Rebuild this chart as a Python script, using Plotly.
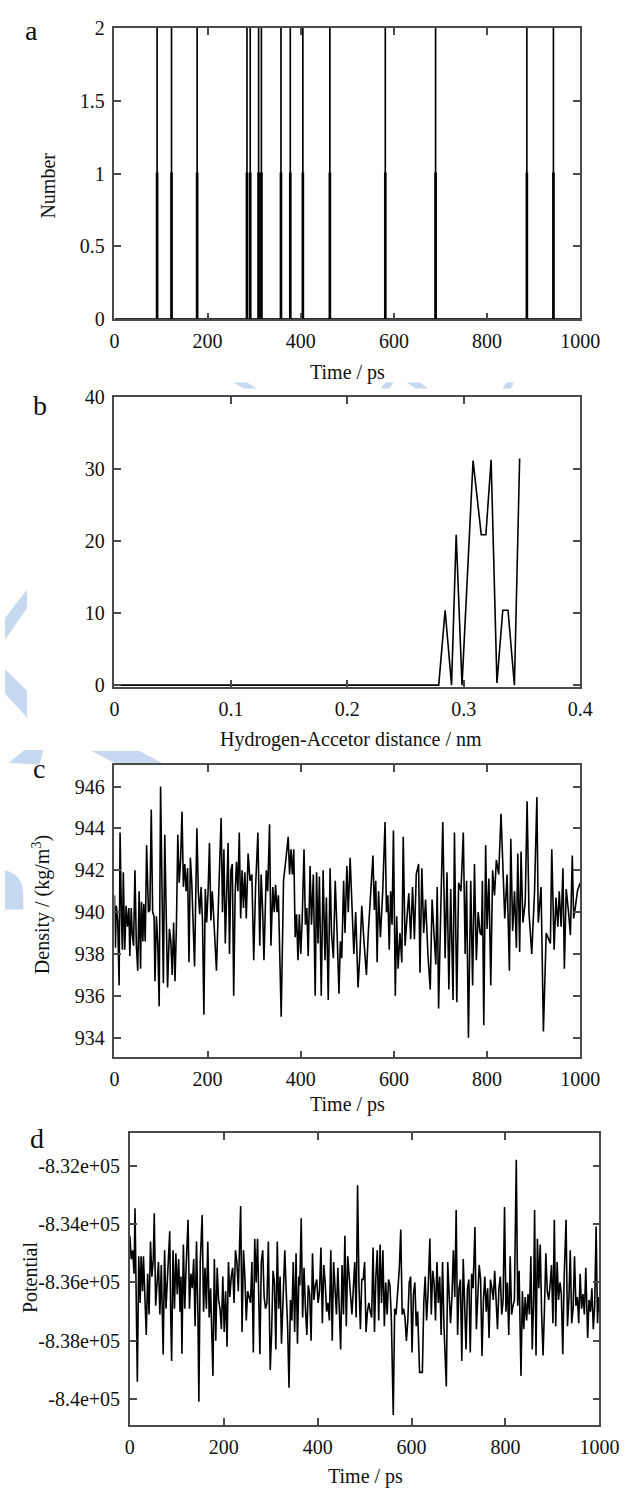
import plotly.graph_objects as go

W, H = 629, 1497

# ---------------- data ----------------
# panel a: hydrogen-bond events (time in ps)
a_spike_times = [91, 122, 177, 284, 291, 309, 315, 357, 377, 404, 462, 581, 689, 885, 942]
a_hbond_value = 1   # h-bonds
a_pairs_value = 2   # pairs within 0.35 nm
a_time_end = 1000

# panel b: hydrogen-acceptor distance distribution
b_dist = [0.0, 0.2785, 0.284, 0.2895, 0.2935, 0.2985, 0.308, 0.315, 0.319, 0.3235, 0.3285, 0.3335, 0.338, 0.3435, 0.348]
b_count = [0, 0, 10.4, 0, 20.9, 0, 31.2, 20.9, 20.9, 31.3, 0.3, 10.4, 10.4, 0, 31.5]

# panel c: density
c_time = [0, 2, 4, 7, 10, 12, 15, 17, 19, 22, 25, 28, 31, 33, 36, 38, 41, 44, 47, 50, 53, 56, 58, 61, 63, 66, 69, 73, 76, 79,
          82, 85, 87, 90, 93, 96, 99, 102, 105, 108, 111, 114, 118, 121, 124, 127, 130, 133, 136, 139, 142, 145, 148, 151, 154,
          157, 160, 163, 166, 169, 172, 177, 180, 183, 186, 189, 192, 195, 198, 201, 204, 207, 210, 213, 219, 224, 229, 232, 235,
          238, 241, 244, 247, 250, 253, 256, 259, 262, 265, 268, 271, 274, 277, 280, 283, 287, 291, 295, 299, 303, 308, 312, 315,
          318, 321, 326, 329, 333, 336, 340, 343, 346, 349, 352, 358, 363, 368, 373, 376, 379, 382, 385, 388, 391, 394, 397, 400,
          403, 407, 410, 413, 416, 420, 423, 427, 431, 434, 437, 440, 444, 448, 452, 455, 459, 463, 466, 470, 474, 478, 482, 485,
          488, 492, 495, 499, 502, 506, 510, 514, 518, 523, 527, 531, 536, 541, 545, 550, 555, 558, 561, 564, 567, 571, 576, 581,
          584, 587, 590, 593, 596, 599, 603, 606, 609, 613, 617, 620, 624, 628, 632, 636, 640, 644, 648, 653, 656, 660, 664, 668,
          673, 678, 682, 686, 690, 693, 696, 700, 705, 710, 714, 718, 722, 727, 730, 735, 739, 744, 749, 753, 756, 760, 765, 769,
          773, 777, 781, 785, 788, 790, 793, 797, 800, 804, 808, 812, 816, 820, 825, 830, 834, 838, 843, 848, 851, 855, 859, 863,
          866, 870, 873, 877, 882, 886, 890, 896, 902, 907, 910, 916, 921, 927, 936, 939, 944, 948, 952, 955, 959, 963, 966, 970,
          975, 979, 983, 986, 990, 994, 1000]
c_density = [940.8, 938.3, 940.3, 939.6, 936.5, 943.8, 939.8, 938.2, 941.9, 938.2, 940.3, 939.3, 940.2, 937.9, 940.2, 939.0,
             938.4, 942.0, 938.4, 937.2, 941.0, 937.3, 940.5, 938.6, 940.4, 938.6, 943.2, 940.0, 940.1, 944.9, 940.0, 939.8,
             936.7, 939.8, 938.5, 935.5, 946.0, 940.2, 936.6, 943.7, 939.0, 936.4, 939.2, 938.6, 937.0, 939.5, 936.7, 939.3,
             943.7, 941.4, 942.5, 944.8, 941.2, 942.3, 941.0, 942.1, 937.6, 942.6, 941.4, 939.5, 937.4, 944.0, 941.0, 939.9,
             941.2, 939.6, 935.1, 941.1, 939.5, 941.0, 943.3, 939.6, 941.0, 939.8, 937.2, 941.0, 944.5, 940.0, 943.0, 938.5,
             940.5, 943.3, 938.0, 942.0, 942.3, 936.0, 940.8, 942.4, 941.0, 943.8, 939.7, 942.0, 940.2, 941.9, 939.7, 942.8,
             941.5, 941.8, 937.7, 941.2, 943.8, 938.4, 941.8, 940.2, 937.7, 942.0, 941.0, 944.2, 938.4, 941.2, 940.0, 941.3,
             940.0, 940.8, 935.0, 941.5, 942.5, 943.6, 941.8, 943.0, 941.8, 943.0, 938.8, 939.9, 937.7, 939.9, 938.0, 939.6,
             943.0, 939.4, 940.2, 937.9, 942.2, 939.4, 941.8, 936.0, 941.9, 938.5, 941.7, 936.0, 942.0, 937.7, 940.7, 935.8,
             942.1, 939.0, 937.8, 941.5, 939.0, 936.1, 938.6, 937.8, 941.5, 939.0, 942.2, 940.0, 942.6, 940.3, 938.0, 940.0,
             936.4, 938.0, 940.3, 938.5, 937.0, 939.0, 941.0, 942.7, 940.1, 941.5, 937.6, 941.0, 938.8, 941.0, 944.3, 940.0,
             940.8, 938.2, 941.0, 939.4, 943.9, 936.0, 939.8, 937.3, 939.0, 937.6, 943.6, 938.4, 939.7, 940.9, 938.7, 941.2,
             938.7, 941.8, 942.3, 937.1, 942.1, 939.0, 940.6, 938.0, 936.3, 940.6, 939.0, 937.5, 941.2, 935.4, 939.5, 944.3,
             937.8, 941.9, 936.3, 941.1, 935.8, 943.8, 935.7, 941.4, 941.0, 943.8, 938.0, 941.5, 934.0, 941.5, 936.5, 942.3,
             937.7, 940.0, 939.0, 938.9, 941.5, 934.6, 943.2, 939.2, 941.6, 936.5, 942.0, 940.8, 942.5, 941.8, 944.7, 941.8,
             939.7, 941.8, 937.2, 943.5, 939.1, 941.0, 938.3, 942.8, 938.1, 942.9, 939.5, 940.5, 945.3, 940.0, 938.0, 941.0,
             945.5, 939.5, 941.2, 934.3, 939.0, 938.5, 943.0, 938.2, 940.7, 939.3, 941.0, 939.3, 942.1, 937.3, 941.1, 940.0,
             938.9, 942.7, 939.7, 940.3, 941.0, 941.4]

# panel d: potential energy
d_time = [0, 3, 6, 9, 11, 13, 16, 19, 22, 24, 27, 29, 32, 35, 38, 41, 44, 47, 50, 52, 55, 58, 61, 64, 67, 71, 74, 77, 80, 85,
          87, 89, 92, 95, 98, 101, 104, 107, 109, 111, 114, 117, 120, 124, 127, 130, 133, 136, 139, 142, 145, 147, 150, 154, 157,
          160, 163, 166, 169, 172, 177, 180, 183, 186, 189, 192, 195, 198, 201, 204, 207, 210, 213, 216, 219, 222, 225, 228, 231,
          236, 239, 242, 245, 248, 251, 254, 257, 260, 263, 266, 269, 272, 274, 277, 280, 283, 286, 289, 292, 295, 299, 302, 305,
          308, 311, 314, 317, 320, 323, 326, 330, 333, 336, 339, 342, 345, 348, 351, 354, 357, 360, 362, 365, 368, 371, 374, 377,
          380, 383, 386, 389, 392, 395, 398, 401, 404, 407, 410, 413, 416, 419, 422, 425, 428, 431, 434, 437, 440, 443, 446, 449,
          452, 455, 458, 461, 464, 467, 470, 473, 476, 479, 482, 485, 488, 491, 494, 497, 500, 503, 506, 509, 512, 515, 518, 521,
          524, 527, 530, 533, 536, 539, 542, 545, 548, 551, 554, 557, 561, 564, 567, 570, 574, 577, 580, 583, 586, 589, 592, 595,
          598, 601, 604, 607, 610, 613, 617, 623, 626, 629, 632, 635, 639, 642, 645, 648, 651, 654, 657, 660, 663, 666, 669, 674,
          677, 680, 683, 686, 689, 692, 695, 698, 701, 704, 707, 710, 713, 716, 719, 722, 725, 728, 731, 735, 738, 741, 744, 747,
          750, 753, 756, 759, 762, 765, 768, 771, 774, 777, 780, 783, 786, 789, 792, 795, 798, 801, 804, 807, 810, 813, 816, 819,
          823, 826, 829, 833, 836, 839, 842, 845, 848, 851, 854, 857, 860, 862, 865, 868, 871, 874, 877, 880, 883, 886, 889, 892,
          895, 898, 901, 904, 907, 910, 913, 916, 919, 922, 925, 929, 932, 935, 938, 941, 944, 947, 950, 953, 956, 959, 962, 965,
          968, 971, 975, 978, 981, 984, 987, 990, 993, 996, 998, 1000]
d_potential = [-834400, -835200, -834900, -835700, -833460, -836600, -839400, -835100, -836700, -835100, -836300, -835100,
               -836900, -837800, -835700, -837100, -834600, -835800, -835200, -833630, -836800, -835800, -835300, -837100,
               -835400, -838470, -834900, -836900, -835800, -834250, -837100, -838690, -834900, -836900, -835000, -836400,
               -835200, -837000, -835800, -838440, -834700, -836900, -835400, -833850, -836900, -835700, -836200, -835200,
               -837500, -834600, -837100, -840090, -835300, -833690, -837000, -835500, -836900, -834600, -837200, -836200,
               -839200, -835200, -838000, -835500, -836600, -836900, -837600, -835800, -837700, -836300, -838200, -835300,
               -836500, -835800, -835500, -836700, -834900, -835300, -836300, -833380, -837700, -834900, -835800, -837300,
               -836300, -836500, -836700, -835300, -838400, -834500, -836000, -834500, -836600, -838460, -835300, -834900,
               -836500, -836900, -836700, -834600, -839000, -837700, -835600, -836000, -838300, -834600, -836900, -835800,
               -838100, -836400, -834900, -836300, -837500, -839610, -836600, -837300, -835300, -837700, -835000, -838100,
               -835800, -836100, -833800, -837200, -835500, -836900, -837800, -836100, -836400, -838000, -835000, -836600,
               -836100, -835900, -836700, -836300, -834800, -837400, -835400, -836000, -837000, -836700, -837300, -834900,
               -838000, -835300, -836400, -837100, -835500, -836700, -838300, -835400, -837100, -834400, -837500, -835100,
               -835800, -836700, -837100, -836200, -835300, -837200, -832670, -836100, -837600, -835900, -835900, -835300,
               -837700, -837000, -836700, -837000, -837200, -834800, -837700, -835800, -834900, -837300, -834700, -836700,
               -834900, -837500, -836000, -837100, -835900, -836100, -837300, -840540, -836900, -837100, -836400, -835500,
               -834190, -837100, -836900, -837200, -838000, -837300, -836000, -835800, -838400, -836400, -836000, -837500,
               -837000, -839080, -839080, -836700, -835800, -837300, -836400, -834500, -837100, -835600, -836000, -837300,
               -835300, -836700, -835800, -837800, -835300, -837500, -839560, -835300, -836400, -837400, -836500, -834900,
               -836500, -833520, -837800, -836200, -835900, -838690, -835200, -837300, -838300, -836200, -835900, -838400,
               -835700, -836200, -834100, -837600, -836400, -835400, -835900, -838520, -836600, -835800, -837000, -836200,
               -837900, -835900, -836200, -836600, -835600, -836500, -837600, -836200, -835800, -837100, -836600, -833420,
               -837000, -836000, -837800, -835100, -837100, -836800, -836600, -831800, -836800, -835600, -839200, -836300,
               -837600, -836500, -837300, -836400, -837100, -835100, -838300, -836500, -833520, -838500, -834500, -836200,
               -834700, -837100, -838500, -836900, -835000, -836300, -836600, -836100, -835400, -837400, -833850, -837500,
               -835300, -836600, -836000, -836400, -838460, -835800, -833850, -837500, -836600, -834900, -837400, -836900,
               -835100, -836800, -836500, -837400, -835700, -836900, -836400, -837100, -835500, -837900, -836600, -837000,
               -836200, -837600, -836800, -834080, -837400, -836500, -837000]
d_tickvals = [-832000, -834000, -836000, -838000, -840000]
d_ticktext = ["-8.32e+05", "-8.34e+05", "-8.36e+05", "-8.38e+05", "-8.4e+05"]

# ---------------- build spike series for panel a ----------------
def spikes(times, value, end):
    xs, ys = [0], [0]
    for t in times:
        xs += [t, t, t + 1, t + 1]
        ys += [0, value, value, 0]
    xs.append(end)
    ys.append(0)
    return xs, ys

ax_pairs, ay_pairs = spikes(a_spike_times, a_pairs_value, a_time_end)
ax_hb, ay_hb = spikes(a_spike_times, a_hbond_value, a_time_end)

# ---------------- figure ----------------
def xd(l, r):
    return [l / W, r / W]

def yd(t, b):
    return [1 - b / H, 1 - t / H]

FONT = "'Liberation Serif', 'Times New Roman', Times, 'DejaVu Serif', serif"
FRAME = "#4a4a4a"
common = dict(showline=True, linecolor=FRAME, linewidth=1.5, mirror="ticks", ticks="inside",
              ticklen=7, tickwidth=1.5, tickcolor=FRAME, showgrid=False, zeroline=False,
              tickfont=dict(family=FONT, size=20, color="#111"))

fig = go.Figure()
line = dict(color="black", width=1.6)
fig.add_trace(go.Scatter(x=ax_pairs, y=ay_pairs, mode="lines", line=dict(color="black", width=1.2),
                         xaxis="x", yaxis="y", showlegend=False, hoverinfo="skip"))
fig.add_trace(go.Scatter(x=ax_hb, y=ay_hb, mode="lines", line=dict(color="black", width=2.2),
                         xaxis="x", yaxis="y", showlegend=False, hoverinfo="skip"))
fig.add_trace(go.Scatter(x=b_dist, y=b_count, mode="lines", line=line,
                         xaxis="x2", yaxis="y2", showlegend=False))
fig.add_trace(go.Scatter(x=c_time, y=c_density, mode="lines", line=line,
                         xaxis="x3", yaxis="y3", showlegend=False))
fig.add_trace(go.Scatter(x=d_time, y=d_potential, mode="lines", line=line,
                         xaxis="x4", yaxis="y4", showlegend=False))

fig.update_layout(
    width=W, height=H, margin=dict(l=0, r=0, t=0, b=0),
    paper_bgcolor="white", plot_bgcolor="white", showlegend=False,
    font=dict(family=FONT),
    xaxis=dict(common, domain=xd(114, 599), anchor="y", range=[0, 1000], tickvals=[0, 200, 400, 600, 800, 1000],
               ticklabelstandoff=3),
    yaxis=dict(common, domain=yd(17, 313), anchor="x", range=[0, 2], tickvals=[0, 0.5, 1, 1.5, 2],
               ticklabelstandoff=4),
    xaxis2=dict(common, domain=xd(114, 599), anchor="y2", range=[0, 0.4], tickvals=[0, 0.1, 0.2, 0.3, 0.4],
                ticklabelstandoff=3),
    yaxis2=dict(common, domain=yd(392, 686), anchor="x2", range=[-0.25, 40], tickvals=[0, 10, 20, 30, 40],
                ticklabelstandoff=4),
    xaxis3=dict(common, domain=xd(114, 599), anchor="y3", range=[0, 1000], tickvals=[0, 200, 400, 600, 800, 1000],
                ticklabelstandoff=3),
    yaxis3=dict(common, domain=yd(765, 1062), anchor="x3", range=[933.06, 947.04],
                tickvals=[934, 936, 938, 940, 942, 944, 946], ticklabelstandoff=4),
    xaxis4=dict(common, domain=xd(130, 619), anchor="y4", range=[0, 1000], tickvals=[0, 200, 400, 600, 800, 1000],
                ticklabelstandoff=3),
    yaxis4=dict(common, domain=yd(1139, 1435), anchor="x4", range=[-840880, -830890],
                tickvals=d_tickvals, ticktext=d_ticktext, ticklabelstandoff=4),
)

def ann(text, x, y, size=20, angle=0):
    fig.add_annotation(text=text, x=x / W, y=1 - y / H, xref="paper", yref="paper",
                       showarrow=False, textangle=angle, xanchor="center", yanchor="middle",
                       font=dict(family=FONT, size=size, color="#111"))

ann("a", 28, 20, 28)
ann("b", 36, 400, 28)
ann("c", 35, 769, 28)
ann("d", 33, 1144, 28)
ann("Time / ps", 357, 367)
ann("Number", 45, 177, angle=-90)
ann("Hydrogen-Accetor distance / nm", 360, 739)
ann("Time / ps", 357, 1110)
ann("Density / (kg/m<sup>3</sup>)", 38, 907, angle=-90)
ann("Time / ps", 375, 1487)
ann("Potential", 26, 1285, angle=-90)

# faint light-blue watermark pieces visible between the panels
WM = "#c6d9f1"

def poly(pts):
    p = "M " + " L ".join(f"{x / W:.5f},{1 - y / H:.5f}" for x, y in pts) + " Z"
    fig.add_shape(type="path", path=p, xref="paper", yref="paper", fillcolor=WM,
                  line=dict(width=0), layer="below")

poly([(238, 377), (252, 377), (262, 383), (249, 383)])
poly([(396, 377), (405, 377), (400, 383), (391, 383)])
poly([(418, 377), (432, 377), (441, 383), (428, 383)])
poly([(522, 377), (530, 377), (527, 383), (518, 383)])
poly([(23, 587), (23, 606), (0, 638), (0, 616)])
poly([(0, 668), (23, 690), (23, 717), (0, 693)])
poly([(4, 763), (20, 750), (40, 750), (36, 765)])
poly([(90, 751), (140, 751), (167, 765), (118, 765)])
fig.add_shape(type="path", xref="paper", yref="paper", fillcolor=WM, line=dict(width=0), layer="below",
              path=f"M 0,{1 - 872 / H:.5f} Q {18 / W:.5f},{1 - 876 / H:.5f} {19 / W:.5f},{1 - 895 / H:.5f} "
                   f"L {19 / W:.5f},{1 - 912 / H:.5f} L 0,{1 - 912 / H:.5f} Z")

fig.write_html("out.html")
